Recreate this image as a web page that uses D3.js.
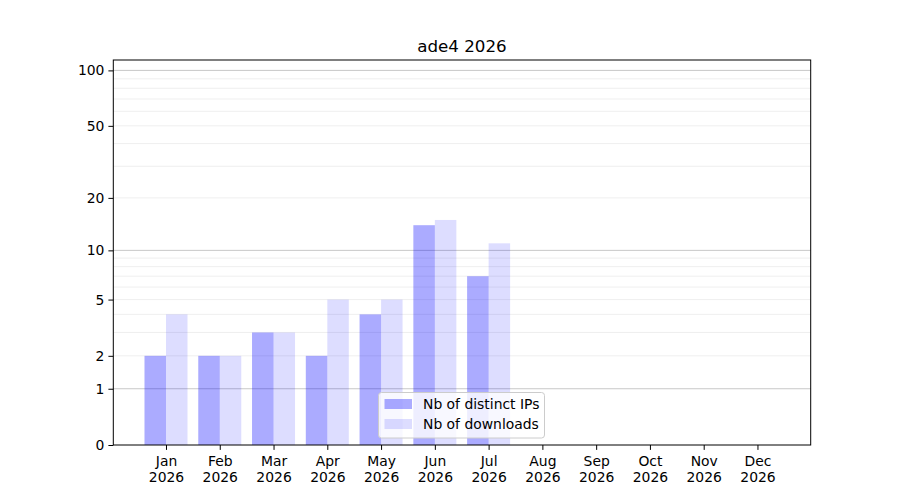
<!DOCTYPE html>
<html>
<head>
<meta charset="utf-8">
<script src="https://cdn.jsdelivr.net/npm/d3@7"></script>
<style>
  body { margin: 0; background: white; }
  text { font-family: "DejaVu Sans", sans-serif; }
</style>
</head>
<body>
<div id="canvas"></div>
<script>
// Data
const months = ["Jan", "Feb", "Mar", "Apr", "May", "Jun", "Jul", "Aug", "Sep", "Oct", "Nov", "Dec"];
const year = "2026";
const distinctIPs = [2, 2, 3, 2, 4, 14, 7];
const downloads = [4, 2, 3, 5, 5, 15, 11];
const yTicks = [0, 1, 2, 5, 10, 20, 50, 100];
const majorGrid = [1, 10, 100];
const minorGrid = [2, 3, 4, 5, 6, 7, 8, 9, 20, 30, 40, 50, 60, 70, 80, 90];
const seriesNames = ["Nb of distinct IPs", "Nb of downloads"];

// Layout
const w = 900, h = 500;
const plotLeft = 113.3, plotRight = 810.7, plotTop = 60, plotBottom = 445;
const barW = 0.4;

const xScale = d3.scaleLinear().domain([-0.98, 11.99]).range([plotLeft, plotRight]);
const yScale = d3.scaleSymlog().constant(1).domain([0, 113.8]).range([plotBottom, plotTop]);

const svg = d3.select("#canvas").append("svg")
  .attr("width", w)
  .attr("height", h)
  .style("background-color", "white");

// Grid
svg.append("g").selectAll("line")
  .data(minorGrid)
  .join("line")
  .attr("x1", plotLeft).attr("x2", plotRight)
  .attr("y1", d => yScale(d)).attr("y2", d => yScale(d))
  .attr("stroke", "#ebebeb").attr("stroke-width", 0.8);

svg.append("g").selectAll("line")
  .data(majorGrid)
  .join("line")
  .attr("x1", plotLeft).attr("x2", plotRight)
  .attr("y1", d => yScale(d)).attr("y2", d => yScale(d))
  .attr("stroke", "#c8c8c8").attr("stroke-width", 1);

// Bars
const bars = svg.append("g");
bars.selectAll(".ip")
  .data(distinctIPs)
  .join("rect")
  .attr("class", "ip")
  .attr("x", (d, i) => xScale(i - barW))
  .attr("width", xScale(barW) - xScale(0))
  .attr("y", d => yScale(d))
  .attr("height", d => yScale(0) - yScale(d))
  .attr("fill", "#0000ff")
  .attr("fill-opacity", 0.33);

bars.selectAll(".dl")
  .data(downloads)
  .join("rect")
  .attr("class", "dl")
  .attr("x", (d, i) => xScale(i))
  .attr("width", xScale(barW) - xScale(0))
  .attr("y", d => yScale(d))
  .attr("height", d => yScale(0) - yScale(d))
  .attr("fill", "#0000ff")
  .attr("fill-opacity", 0.135);

// Axes frame
svg.append("rect")
  .attr("x", plotLeft).attr("y", plotTop)
  .attr("width", plotRight - plotLeft).attr("height", plotBottom - plotTop)
  .attr("fill", "none").attr("stroke", "black").attr("stroke-width", 1);

// Y axis
const yAxis = svg.append("g")
  .attr("transform", `translate(${plotLeft},0)`)
  .call(d3.axisLeft(yScale).tickValues(yTicks).tickFormat(d3.format("d")).tickSize(4.9).tickPadding(4));
yAxis.select(".domain").remove();
yAxis.selectAll(".tick text")
  .attr("fill", "black")
  .style("font-family", "DejaVu Sans, sans-serif")
  .style("font-size", "13.9px");

// X axis
const xAxis = svg.append("g")
  .attr("transform", `translate(0,${plotBottom})`)
  .call(d3.axisBottom(xScale).tickValues(d3.range(months.length)).tickFormat("").tickSize(4.9));
xAxis.select(".domain").remove();
xAxis.selectAll(".tick").each(function (d) {
  const t = d3.select(this).append("text")
    .attr("fill", "black")
    .attr("text-anchor", "middle")
    .style("font-family", "DejaVu Sans, sans-serif")
    .style("font-size", "13.9px");
  t.append("tspan").attr("x", 0).attr("y", 21).text(months[d]);
  t.append("tspan").attr("x", 0).attr("y", 37).text(year);
});

// Title
svg.append("text")
  .attr("x", (plotLeft + plotRight) / 2)
  .attr("y", 52)
  .attr("text-anchor", "middle")
  .style("font-size", "16.7px")
  .attr("fill", "black")
  .text("ade4 " + year);

// Legend
const legend = svg.append("g").attr("transform", "translate(378.5,392.5)");
legend.append("rect")
  .attr("width", 166).attr("height", 45.5)
  .attr("rx", 3)
  .attr("fill", "white").attr("fill-opacity", 0.8)
  .attr("stroke", "#cccccc");
[0.33, 0.135].forEach((op, i) => {
  legend.append("rect")
    .attr("x", 6).attr("y", 6.5 + i * 20)
    .attr("width", 27.5).attr("height", 10)
    .attr("fill", "#0000ff").attr("fill-opacity", op);
  legend.append("text")
    .attr("x", 44.5).attr("y", 16.5 + i * 20)
    .style("font-size", "13.9px")
    .attr("fill", "black")
    .text(seriesNames[i]);
});
</script>
</body>
</html>
